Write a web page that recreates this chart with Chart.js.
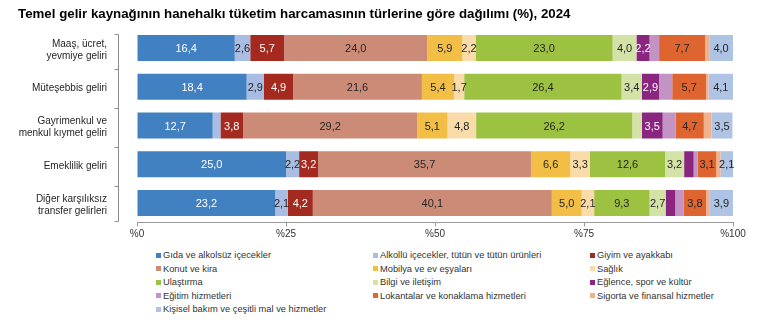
<!DOCTYPE html>
<html>
<head>
<meta charset="utf-8">
<script src="https://cdn.jsdelivr.net/npm/chart.js@4.4.1/dist/chart.umd.min.js"></script>
<style>
  body { margin: 0; background: #fff; }
  .wrap { position: relative; width: 775px; height: 323px; font-family: "Liberation Sans", Arial, sans-serif; }
  #chart { position: absolute; left: 0; top: 0; }
  .legend-item { position: absolute; font-size: 9.3px; color: #333; white-space: nowrap; line-height: 12px; }
  .legend-item span { position: absolute; left: -7px; top: 3.5px; width: 5px; height: 5px; }
</style>
</head>
<body>
<div class="wrap">
  <canvas id="chart" width="775" height="245"></canvas>
  <div id="legend"></div>
</div>
<script>
const categories = [
    ['Maaş, ücret,', 'yevmiye geliri'],
    'Müteşebbis geliri',
    ['Gayrimenkul ve', 'menkul kıymet geliri'],
    'Emeklilik geliri',
    ['Diğer karşılıksız', 'transfer gelirleri']
];

const groups = [
    'Gıda ve alkolsüz içecekler',
    'Alkollü içecekler, tütün ve tütün ürünleri',
    'Giyim ve ayakkabı',
    'Konut ve kira',
    'Mobilya ve ev eşyaları',
    'Sağlık',
    'Ulaştırma',
    'Bilgi ve iletişim',
    'Eğlence, spor ve kültür',
    'Eğitim hizmetleri',
    'Lokantalar ve konaklama hizmetleri',
    'Sigorta ve finansal hizmetler',
    'Kişisel bakım ve çeşitli mal ve hizmetler'
];

const colors = ['#4281c1', '#a9bde2', '#a4291f', '#cc8b77', '#f2be46', '#f9dcaa', '#9dc241',
    '#d3e2a6', '#8b2680', '#c394c3', '#de6430', '#f0b28d', '#afc3e5'];

// values per category (%), in the order of categories
const gida      = [16.4, 18.4, 12.7, 25.0, 23.2];
const alkollu   = [2.6, 2.9, 1.3, 2.2, 2.1];
const giyim     = [5.7, 4.9, 3.8, 3.2, 4.2];
const konut     = [24.0, 21.6, 29.2, 35.7, 40.1];
const mobilya   = [5.9, 5.4, 5.1, 6.6, 5.0];
const saglik    = [2.2, 1.7, 4.8, 3.3, 2.1];
const ulastirma = [23.0, 26.4, 26.2, 12.6, 9.3];
const bilgi     = [4.0, 3.4, 1.6, 3.2, 2.7];
const eglence   = [2.2, 2.9, 3.5, 1.6, 1.6];
const egitim    = [1.6, 2.2, 2.2, 0.7, 1.4];
const lokanta   = [7.7, 5.7, 4.7, 3.1, 3.8];
const sigorta   = [0.7, 0.4, 1.3, 0.7, 0.6];
const kisisel   = [4.0, 4.1, 3.5, 2.1, 3.9];

const xTicks = [0, 25, 50, 75, 100];

const series = [gida, alkollu, giyim, konut, mobilya, saglik, ulastirma, bilgi, eglence, egitim, lokanta, sigorta, kisisel];
const whiteLabels = [0, 2, 8];
const unlabeled = [9, 11];

const FONT = '"Liberation Sans", Arial, sans-serif';

// values written in the middle of each segment
const barLabels = {
    id: 'barLabels',
    afterDatasetsDraw(chart) {
        const ctx = chart.ctx;
        ctx.save();
        ctx.font = '11px ' + FONT;
        ctx.textAlign = 'center';
        ctx.textBaseline = 'middle';
        chart.data.datasets.forEach((ds, i) => {
            if (unlabeled.includes(i)) return;
            chart.getDatasetMeta(i).data.forEach((bar, j) => {
                const v = ds.data[j];
                if (v < 1.7) return;
                ctx.fillStyle = whiteLabels.includes(i) ? '#ffffff' : '#262626';
                ctx.fillText(v.toFixed(1).replace('.', ','), (bar.x + bar.base) / 2, bar.y + 1);
            });
        });
        ctx.restore();
    }
};

// the category axis line sits a bit left of the bars
const yAxisLine = {
    id: 'yAxisLine',
    afterDraw(chart) {
        const { ctx, chartArea } = chart;
        const x = Math.round(chartArea.left - 19) + 0.5;
        const step = (chartArea.bottom - chartArea.top) / categories.length;
        const ys = [chartArea.top + 5];
        for (let i = 1; i < categories.length; i++) ys.push(chartArea.top + i * step + 2);
        ys.push(chartArea.bottom - 1);
        ctx.save();
        ctx.strokeStyle = '#8c8c8c';
        ctx.lineWidth = 1;
        ctx.beginPath();
        ctx.moveTo(x, Math.round(ys[0]) + 0.5);
        ctx.lineTo(x, Math.round(ys[ys.length - 1]) + 0.5);
        ys.forEach(y => {
            ctx.moveTo(x - 4, Math.round(y) + 0.5);
            ctx.lineTo(x, Math.round(y) + 0.5);
        });
        ctx.stroke();
        ctx.restore();
    }
};

new Chart(document.getElementById('chart'), {
    type: 'bar',
    data: {
        labels: categories,
        datasets: series.map((data, i) => ({
            label: groups[i],
            data: data,
            backgroundColor: colors[i],
            borderWidth: 0,
            barPercentage: 1,
            categoryPercentage: 0.67
        }))
    },
    options: {
        indexAxis: 'y',
        responsive: false,
        animation: false,
        layout: { padding: { left: 18, right: 42, top: 0, bottom: 0 } },
        plugins: {
            legend: { display: false },
            tooltip: { enabled: false },
            title: {
                display: true,
                text: 'Temel gelir kaynağının hanehalkı tüketim harcamasının türlerine göre dağılımı (%), 2024',
                align: 'start',
                color: '#000',
                font: { family: FONT, size: 13.3, weight: 'bold' },
                padding: { top: 6, bottom: 6.6 }
            }
        },
        scales: {
            x: {
                stacked: true,
                min: 0,
                max: 100,
                afterBuildTicks: s => { s.ticks = xTicks.map(v => ({ value: v })); },
                afterFit: s => {
                    s.height = 22.6;
                    s.paddingLeft = 0;
                    s.paddingRight = 0;
                },
                grid: { drawOnChartArea: false, drawTicks: true, tickLength: 4, color: '#999' },
                border: { color: '#999' },
                ticks: {
                    padding: 2,
                    color: '#333',
                    font: { family: FONT, size: 10 },
                    callback: v => '%' + v
                }
            },
            y: {
                stacked: true,
                afterFit: s => {
                    s.width = 119;
                    s.paddingTop = 0;
                    s.paddingBottom = 0;
                },
                grid: { display: false },
                border: { display: false },
                ticks: { padding: 22, labelOffset: 2, color: '#262626', font: { family: FONT, size: 10 } }
            }
        }
    },
    plugins: [barLabels, yAxisLine]
});

// legend in three columns, filled row by row
const legendEl = document.getElementById('legend');
const colX = [163, 380, 597];
groups.forEach((name, i) => {
    const item = document.createElement('div');
    item.className = 'legend-item';
    item.style.left = colX[i % 3] + 'px';
    item.style.top = (249 + Math.floor(i / 3) * 13.5) + 'px';
    item.innerHTML = '<span style="background:' + colors[i] + '"></span>' + name;
    legendEl.appendChild(item);
});
</script>
</body>
</html>
